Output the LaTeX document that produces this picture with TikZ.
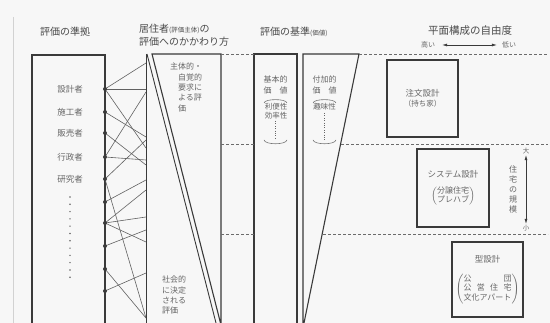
\documentclass[tikz,border=0pt]{standalone}
\usepackage{fontspec}
\newfontfamily\jp{Noto Sans CJK JP}
\usetikzlibrary{arrows.meta}
\definecolor{ink}{HTML}{3A3A3A}
\definecolor{txt}{HTML}{4A4A4A}
\definecolor{soft}{HTML}{666666}
\definecolor{paper}{HTML}{F7F7F7}
\newcommand\tallparen[1]{$\left(\vcenter{\hbox{#1}}\right)$}
\begin{document}
\begin{tikzpicture}[x=1pt,y=-1pt,
  frame/.style={draw=ink,line width=1.1pt},
  link/.style={draw=ink!80,line width=0.6pt},
  dashline/.style={draw=ink!75,line width=0.7pt,dash pattern=on 3pt off 2pt},
  title/.style={font=\jp\fontsize{10}{12.5}\selectfont,text=txt,inner sep=0pt,align=left},
  lab/.style={font=\jp\fontsize{8}{10.3}\selectfont,text=soft,inner sep=0pt},
  small/.style={font=\jp\fontsize{6.5}{8}\selectfont,text=soft,inner sep=1pt},
  dot/.style={circle,fill=ink,inner sep=0pt,minimum size=4pt},
  tinydot/.style={circle,fill=soft,inner sep=0pt,minimum size=1.6pt},
  boxnode/.style={draw=ink,line width=1.1pt,font=\jp\fontsize{8.5}{10.5}\selectfont,text=soft,align=center,inner sep=0pt},
  arr/.style={{Latex[length=5pt,width=3pt]}-{Latex[length=5pt,width=3pt]},draw=ink,line width=0.6pt}]
\fill[paper] (0,0) rectangle (550,323);
\useasboundingbox (0,0) rectangle (550,323);
\draw[gray!35,line width=0.6pt] (13,17) -- (13,323);

% titles
\node[title,anchor=west] (t1) at (40,32) {評価の準拠};
\node[title,anchor=north west] (t2) at (139,24) {居住者{\fontsize{6.5}{8}\selectfont (評価主体)}の\\評価へのかかわり方};
\node[title,anchor=west] (t3) at (260,32) {評価の基準{\fontsize{6.5}{8}\selectfont (価値)}};
\node[title,anchor=west,font=\jp\fontsize{10.5}{12.5}\selectfont] (t4) at (428,31) {平面構成の自由度};
\node[small,font=\jp\fontsize{7}{8}\selectfont] (takai) at (428,45) {高い};
\node[small,font=\jp\fontsize{7}{8}\selectfont] (hikui) at (509,45) {低い};
\draw[arr] ([xshift=6pt]takai.east) -- ([xshift=-4pt]hikui.west);

% left box
\draw[frame] (32,323) -- (32,55) -- (105,55) -- (105,323);
\node[lab,font=\jp\fontsize{8.5}{10}\selectfont] (l1) at (70,89) {設計者};
\node[lab,font=\jp\fontsize{8.5}{10}\selectfont] (l2) at (70,112) {施工者};
\node[lab,font=\jp\fontsize{8.5}{10}\selectfont] (l3) at (70,133) {販売者};
\node[lab,font=\jp\fontsize{8.5}{10}\selectfont] (l4) at (70,157) {行政者};
\node[lab,font=\jp\fontsize{8.5}{10}\selectfont] (l5) at (70,179) {研究者};
\foreach \i in {0,...,11} \node[tinydot] (v\i) at (70,{197+\i*7.3}) {};

% mesh
\foreach \n/\y in {1/89,2/112,3/133,4/157,5/179,6/202,7/223,8/246,9/269,10/291}
  \coordinate (d\n) at (105,\y);
\foreach \y in {63,89,92,137,140,148,160,165,180,190,217,230,242,273,318}
  \coordinate (e\y) at (146,\y);
\foreach \a/\b in {1/63,1/89,1/148,2/137,3/165,4/92,4/160,5/140,5/318,6/180,7/190,7/217,7/242,8/230,9/318,10/273}
  \draw[link] (d\a) -- (e\b);
\draw[frame,line width=0.9pt] (146,54) -- (146,323);
\foreach \n in {1,...,10} \node[dot] at (d\n) {};

% wedge panel
\draw[frame,line width=0.9pt] (147,54) -- (216,323);
\draw[frame] (220.5,323) -- (152,54) -- (221,54) -- (221,323);
\node[lab,anchor=north west,align=left] (p1) at (170,63) {主体的・\\\hspace*{8pt}自覚的\\\hspace*{8pt}要求に\\\hspace*{8pt}よる評\\\hspace*{8pt}価};
\node[lab,anchor=north west,align=left] (p2) at (162,276) {社会的\\に決定\\される\\評価};

% value panels
\draw[frame] (254,323) -- (254,54) -- (297,54) -- (297,323);
\draw[frame] (303,323) -- (303,54) -- (359,54) -- (304,323);
\node[lab,align=center] (k1) at (275.5,85) {基本的\\\makebox[24pt]{価\hfill 値}};
\node[lab,align=center,font=\jp\fontsize{7.5}{8.6}\selectfont] (k2) at (276,111) {利便性\\効率性};
\draw[ink!70,line width=0.6pt] (264,103) .. controls (265,98.5) and (286,98.5) .. (287,103);
\draw[ink!70,line width=0.6pt] (264,140) .. controls (265,145) and (286,145) .. (287,140);
\draw[soft,line width=0.7pt,dash pattern=on 0.8pt off 1.6pt] (275.5,121) -- (275.5,140);
\node[lab,align=center] (f1) at (324.5,85) {付加的\\\makebox[24pt]{価\hfill 値}};
\node[lab,font=\jp\fontsize{7.5}{8.6}\selectfont] (f2) at (324.5,107) {趣味性};
\draw[ink!70,line width=0.6pt] (313,103) .. controls (314,98.5) and (335,98.5) .. (336,103);
\draw[ink!70,line width=0.6pt] (313,140) .. controls (314,145) and (335,145) .. (336,140);
\draw[soft,line width=0.7pt,dash pattern=on 0.8pt off 1.6pt] (324.5,113) -- (324.5,140);

% dashed level lines
\draw[dashline] (221,54) -- (254,54);
\draw[dashline] (359,54) -- (548,54);
\draw[dashline] (221,144) -- (254,144);
\draw[dashline] (341,144) -- (548,144);
\draw[dashline] (221,234) -- (254,234);
\draw[dashline] (323,234) -- (548,234);

% right boxes
\node[boxnode,minimum width=71pt,minimum height=77pt] (b1) at (422.5,98.5)
  {注文設計\\{\fontsize{7.5}{9}\selectfont （持ち家）}};
\node[boxnode,minimum width=72pt,minimum height=78pt] (b2) at (453,188)
  {システム設計\\[7.5pt]{\fontsize{8}{9.5}\selectfont\tallparen{\begin{tabular}{@{}c@{}}分譲住宅\\プレハブ\end{tabular}}}};
\node[boxnode,minimum width=71pt,minimum height=75pt] (b3) at (487.5,279.5)
  {型設計\\[10pt]{\fontsize{8}{9.3}\selectfont\tallparen{\begin{tabular}{@{}c@{}}\makebox[48pt]{公\hfill 団}\\\makebox[48pt]{公\hfill 営\hfill 住\hfill 宅}\\\makebox[48pt]{文化アパート}\end{tabular}}}};

% size arrow
\node[small] (dai) at (526,151) {大};
\node[small] (sho) at (526,228) {小};
\draw[arr] (dai.south) -- (sho.north);
\node[lab,align=center,font=\jp\fontsize{8}{10}\selectfont] (kibo) at (513,189) {住\\宅\\の\\規\\模};
\end{tikzpicture}
\end{document}
